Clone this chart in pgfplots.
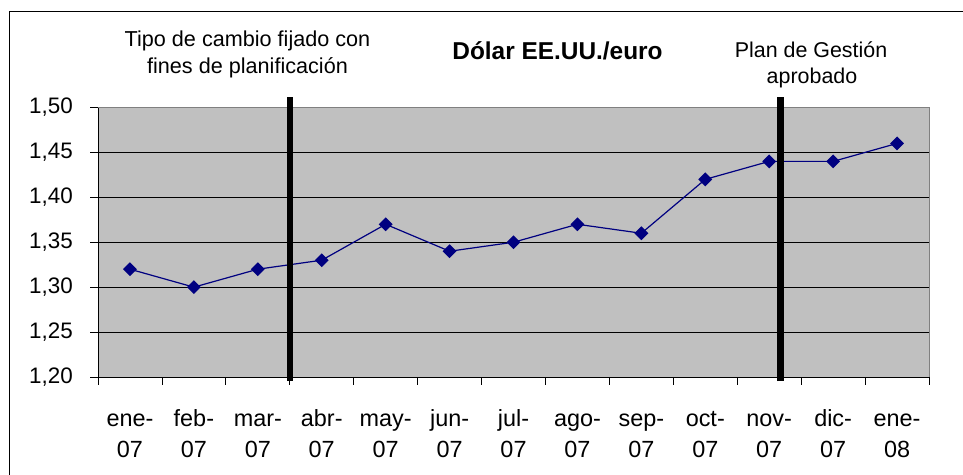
\documentclass[border=0pt]{standalone}
\usepackage{pgfplots}
\pgfplotsset{compat=1.18}
\usepackage{fontspec}
\setmainfont{Liberation Sans}
\definecolor{plotgray}{HTML}{C0C0C0}
\definecolor{navyblue}{HTML}{000080}
\definecolor{framegray}{HTML}{808080}
\begin{document}
\begin{tikzpicture}[x=1bp,y=1bp]
\useasboundingbox (0,0) rectangle (963,475);
\draw[black, line width=1bp] (9,0) -- (9,463) -- (963,463);
\begin{axis}[
  at={(98bp,98bp)}, anchor=south west,
  scale only axis, width=831bp, height=269.5bp,
  xmin=-0.5, xmax=12.5, ymin=1.2, ymax=1.5,
  clip=false,
  axis background/.style={fill=plotgray},
  axis line style={black, line width=0.8bp},
  tick align=outside, tick pos=left,
  major tick length=8bp, minor tick length=8bp,
  xtick={0,...,12},
  xticklabels={{\strut ene-\\\strut 07},{\strut feb-\\\strut 07},{\strut mar-\\\strut 07},{\strut abr-\\\strut 07},{\strut may-\\\strut 07},{\strut jun-\\\strut 07},{\strut jul-\\\strut 07},{\strut ago-\\\strut 07},{\strut sep-\\\strut 07},{\strut oct-\\\strut 07},{\strut nov-\\\strut 07},{\strut dic-\\\strut 07},{\strut ene-\\\strut 08}},
  major x tick style={draw=none},
  minor xtick={-0.5,0.5,...,12.5},
  minor x tick style={black, line width=0.8bp},
  ytick={1.20,1.25,1.30,1.35,1.40,1.45,1.50},
  yticklabels={{1,20},{1,25},{1,30},{1,35},{1,40},{1,45},{1,50}},
  y tick style={black, line width=0.8bp},
  ymajorgrids, major grid style={black, line width=0.8bp},
  xticklabel style={font=\fontsize{23.5}{31}\selectfont, align=center, inner sep=0pt, anchor=north, yshift=-20bp},
  yticklabel style={font=\fontsize{22.5}{26}\selectfont, inner sep=0pt, anchor=east, xshift=-17bp},
]
\addplot[navyblue, line width=1.2bp, mark=square*, mark size=4.3bp, mark options={rotate=45, fill=navyblue, solid}]
  coordinates {(0,1.32) (1,1.30) (2,1.32) (3,1.33) (4,1.37) (5,1.34) (6,1.35) (7,1.37) (8,1.36) (9,1.42) (10,1.44) (11,1.44) (12,1.46)};
\draw[framegray, line width=1bp] (rel axis cs:0,1) -- (rel axis cs:1,1) -- (rel axis cs:1,0);
\addplot[black, line width=6.5bp, no markers] coordinates {(2.5,1.1955) (2.5,1.5117)};
\addplot[black, line width=6.5bp, no markers] coordinates {(10.18,1.1955) (10.18,1.5117)};
\end{axis}
\node[anchor=base, inner sep=0pt, font=\fontsize{21.7}{26}\selectfont] at (247.5,428.3) {Tipo de cambio fijado con};
\node[anchor=base, inner sep=0pt, font=\fontsize{21.7}{26}\selectfont] at (247.5,401.7) {fines de planificación};
\node[anchor=base, inner sep=0pt, font=\fontsize{24.5}{28}\selectfont\bfseries] at (557.5,415.7) {Dólar EE.UU./euro};
\node[anchor=base, inner sep=0pt, font=\fontsize{21.5}{26}\selectfont] at (811,417.5) {Plan de Gestión};
\node[anchor=base, inner sep=0pt, font=\fontsize{21.5}{26}\selectfont] at (812,391) {aprobado};
\end{tikzpicture}
\end{document}
